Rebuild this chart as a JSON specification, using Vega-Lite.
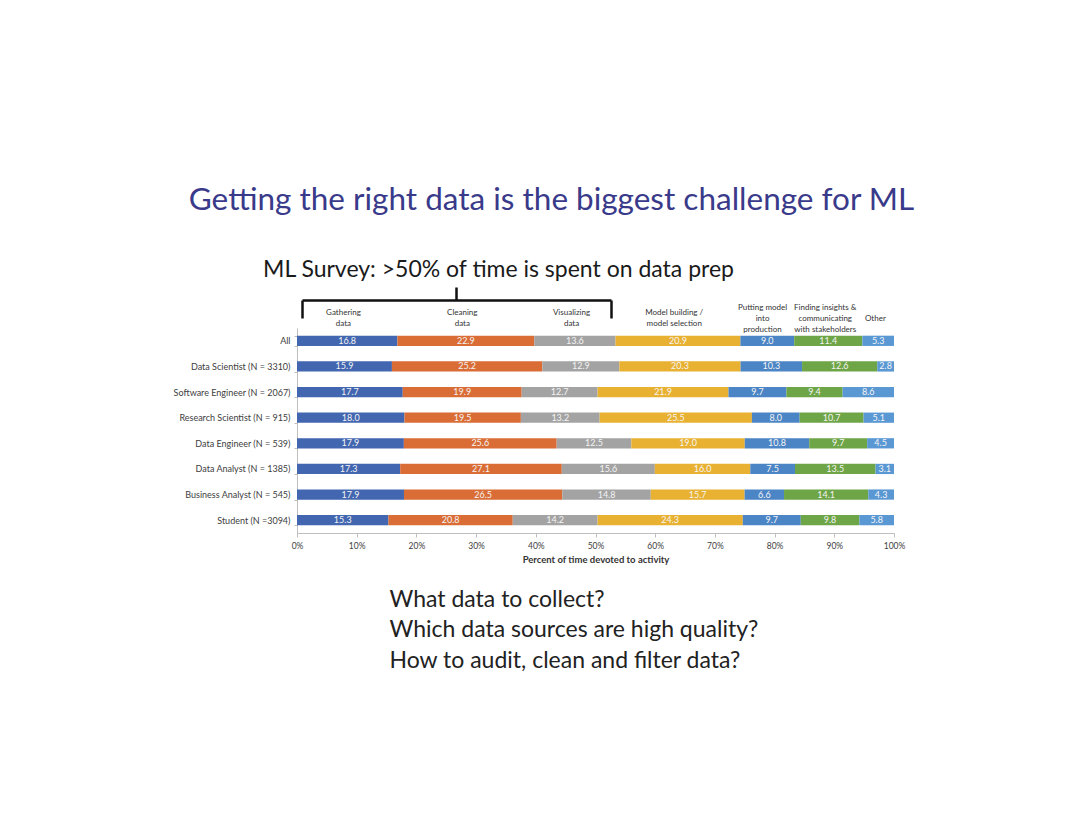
{
  "$schema": "https://vega.github.io/schema/vega-lite/v6.json",
  "width": 597,
  "height": 205,
  "autosize": {"type": "none"},
  "padding": {"left": 297, "top": 328, "right": 186, "bottom": 301},
  "background": "white",
  "config": {"view": {"stroke": null}, "font": "Lato"},
  "data": {"values": [
    {"role": "All", "activity": "Gathering data", "k": 1, "pct": 16.8},
    {"role": "All", "activity": "Cleaning data", "k": 2, "pct": 22.9},
    {"role": "All", "activity": "Visualizing data", "k": 3, "pct": 13.6},
    {"role": "All", "activity": "Model building / model selection", "k": 4, "pct": 20.9},
    {"role": "All", "activity": "Putting model into production", "k": 5, "pct": 9.0},
    {"role": "All", "activity": "Finding insights & communicating with stakeholders", "k": 6, "pct": 11.4},
    {"role": "All", "activity": "Other", "k": 7, "pct": 5.3},
    {"role": "Data Scientist (N = 3310)", "activity": "Gathering data", "k": 1, "pct": 15.9},
    {"role": "Data Scientist (N = 3310)", "activity": "Cleaning data", "k": 2, "pct": 25.2},
    {"role": "Data Scientist (N = 3310)", "activity": "Visualizing data", "k": 3, "pct": 12.9},
    {"role": "Data Scientist (N = 3310)", "activity": "Model building / model selection", "k": 4, "pct": 20.3},
    {"role": "Data Scientist (N = 3310)", "activity": "Putting model into production", "k": 5, "pct": 10.3},
    {"role": "Data Scientist (N = 3310)", "activity": "Finding insights & communicating with stakeholders", "k": 6, "pct": 12.6},
    {"role": "Data Scientist (N = 3310)", "activity": "Other", "k": 7, "pct": 2.8},
    {"role": "Software Engineer (N = 2067)", "activity": "Gathering data", "k": 1, "pct": 17.7},
    {"role": "Software Engineer (N = 2067)", "activity": "Cleaning data", "k": 2, "pct": 19.9},
    {"role": "Software Engineer (N = 2067)", "activity": "Visualizing data", "k": 3, "pct": 12.7},
    {"role": "Software Engineer (N = 2067)", "activity": "Model building / model selection", "k": 4, "pct": 21.9},
    {"role": "Software Engineer (N = 2067)", "activity": "Putting model into production", "k": 5, "pct": 9.7},
    {"role": "Software Engineer (N = 2067)", "activity": "Finding insights & communicating with stakeholders", "k": 6, "pct": 9.4},
    {"role": "Software Engineer (N = 2067)", "activity": "Other", "k": 7, "pct": 8.6},
    {"role": "Research Scientist (N = 915)", "activity": "Gathering data", "k": 1, "pct": 18.0},
    {"role": "Research Scientist (N = 915)", "activity": "Cleaning data", "k": 2, "pct": 19.5},
    {"role": "Research Scientist (N = 915)", "activity": "Visualizing data", "k": 3, "pct": 13.2},
    {"role": "Research Scientist (N = 915)", "activity": "Model building / model selection", "k": 4, "pct": 25.5},
    {"role": "Research Scientist (N = 915)", "activity": "Putting model into production", "k": 5, "pct": 8.0},
    {"role": "Research Scientist (N = 915)", "activity": "Finding insights & communicating with stakeholders", "k": 6, "pct": 10.7},
    {"role": "Research Scientist (N = 915)", "activity": "Other", "k": 7, "pct": 5.1},
    {"role": "Data Engineer (N = 539)", "activity": "Gathering data", "k": 1, "pct": 17.9},
    {"role": "Data Engineer (N = 539)", "activity": "Cleaning data", "k": 2, "pct": 25.6},
    {"role": "Data Engineer (N = 539)", "activity": "Visualizing data", "k": 3, "pct": 12.5},
    {"role": "Data Engineer (N = 539)", "activity": "Model building / model selection", "k": 4, "pct": 19.0},
    {"role": "Data Engineer (N = 539)", "activity": "Putting model into production", "k": 5, "pct": 10.8},
    {"role": "Data Engineer (N = 539)", "activity": "Finding insights & communicating with stakeholders", "k": 6, "pct": 9.7},
    {"role": "Data Engineer (N = 539)", "activity": "Other", "k": 7, "pct": 4.5},
    {"role": "Data Analyst (N = 1385)", "activity": "Gathering data", "k": 1, "pct": 17.3},
    {"role": "Data Analyst (N = 1385)", "activity": "Cleaning data", "k": 2, "pct": 27.1},
    {"role": "Data Analyst (N = 1385)", "activity": "Visualizing data", "k": 3, "pct": 15.6},
    {"role": "Data Analyst (N = 1385)", "activity": "Model building / model selection", "k": 4, "pct": 16.0},
    {"role": "Data Analyst (N = 1385)", "activity": "Putting model into production", "k": 5, "pct": 7.5},
    {"role": "Data Analyst (N = 1385)", "activity": "Finding insights & communicating with stakeholders", "k": 6, "pct": 13.5},
    {"role": "Data Analyst (N = 1385)", "activity": "Other", "k": 7, "pct": 3.1},
    {"role": "Business Analyst (N = 545)", "activity": "Gathering data", "k": 1, "pct": 17.9},
    {"role": "Business Analyst (N = 545)", "activity": "Cleaning data", "k": 2, "pct": 26.5},
    {"role": "Business Analyst (N = 545)", "activity": "Visualizing data", "k": 3, "pct": 14.8},
    {"role": "Business Analyst (N = 545)", "activity": "Model building / model selection", "k": 4, "pct": 15.7},
    {"role": "Business Analyst (N = 545)", "activity": "Putting model into production", "k": 5, "pct": 6.6},
    {"role": "Business Analyst (N = 545)", "activity": "Finding insights & communicating with stakeholders", "k": 6, "pct": 14.1},
    {"role": "Business Analyst (N = 545)", "activity": "Other", "k": 7, "pct": 4.3},
    {"role": "Student (N =3094)", "activity": "Gathering data", "k": 1, "pct": 15.3},
    {"role": "Student (N =3094)", "activity": "Cleaning data", "k": 2, "pct": 20.8},
    {"role": "Student (N =3094)", "activity": "Visualizing data", "k": 3, "pct": 14.2},
    {"role": "Student (N =3094)", "activity": "Model building / model selection", "k": 4, "pct": 24.3},
    {"role": "Student (N =3094)", "activity": "Putting model into production", "k": 5, "pct": 9.7},
    {"role": "Student (N =3094)", "activity": "Finding insights & communicating with stakeholders", "k": 6, "pct": 9.8},
    {"role": "Student (N =3094)", "activity": "Other", "k": 7, "pct": 5.8}
  ]},
  "encoding": {
    "y": {
      "field": "role", "type": "nominal",
      "sort": ["All", "Data Scientist (N = 3310)", "Software Engineer (N = 2067)", "Research Scientist (N = 915)", "Data Engineer (N = 539)", "Data Analyst (N = 1385)", "Business Analyst (N = 545)", "Student (N =3094)"],
      "scale": {"paddingInner": 0.6, "paddingOuter": 0.3},
      "axis": {"title": null, "labelFont": "Lato", "labelFontSize": 9, "labelColor": "#404040", "labelPadding": 4, "tickSize": 3, "tickBand": "extent", "domainColor": "#BFBFBF", "tickColor": "#BFBFBF", "labelLimit": 300}
    }
  },
  "layer": [
    {
      "mark": {"type": "bar"},
      "encoding": {
        "x": {"field": "pct", "type": "quantitative", "stack": "normalize",
          "scale": {"domain": [0, 1], "nice": false},
          "axis": {"orient": "bottom", "values": [0, 0.1, 0.2, 0.3, 0.4, 0.5, 0.6, 0.7, 0.8, 0.9, 1], "format": ".0%", "grid": false, "labelFlush": false, "labelFont": "Lato", "labelFontSize": 8.5, "labelColor": "#404040", "tickSize": 4, "tickColor": "#BFBFBF", "domainColor": "#BFBFBF", "labelPadding": 4, "title": "Percent of time devoted to activity", "titleFont": "Lato", "titleFontSize": 9.5, "titleFontWeight": "bold", "titleColor": "#333333", "titlePadding": 5}
        },
        "color": {"field": "activity", "type": "nominal", "legend": null,
          "scale": {"domain": ["Gathering data", "Cleaning data", "Visualizing data", "Model building / model selection", "Putting model into production", "Finding insights & communicating with stakeholders", "Other"],
                    "range": ["#4266B0", "#DA6D36", "#A3A3A3", "#E9B131", "#4C85C5", "#6EA547", "#5A98D4"]}},
        "order": {"field": "k", "type": "quantitative"}
      }
    },
    {
      "mark": {"type": "text", "fontSize": 9, "font": "Lato", "color": "#F4F4F4", "baseline": "middle"},
      "encoding": {
        "x": {"field": "pct", "type": "quantitative", "stack": "normalize", "bandPosition": 0.5,
          "axis": {"orient": "top", "values": [0.077, 0.276, 0.459, 0.631, 0.779, 0.884, 0.968],
            "labelExpr": "datum.value < 0.1 ? ['Gathering','data'] : datum.value < 0.35 ? ['Cleaning','data'] : datum.value < 0.5 ? ['Visualizing','data'] : datum.value < 0.7 ? ['Model building /','model selection'] : datum.value < 0.83 ? ['Putting model','into','production'] : datum.value < 0.93 ? ['Finding insights &','communicating','with stakeholders'] : 'Other'",
            "domain": false, "ticks": false, "tickSize": 0, "grid": false, "labelFlush": false, "labelOverlap": false, "labelBound": false,
            "labelFont": "Lato", "labelFontSize": 8, "labelColor": "#333333", "labelLineHeight": 11, "labelBaseline": "middle",
            "labelPadding": {"condition": [{"test": "datum.value > 0.95", "value": 10}, {"test": "datum.value < 0.7", "value": 16}], "value": 21},
            "title": "ML Survey: >50% of time is spent on data prep", "titleX": 201, "titleY": -52, "titleAlign": "center", "titleBaseline": "alphabetic", "titleFont": "Lato", "titleFontSize": 23, "titleFontWeight": "normal", "titleColor": "#1A1A1A"}
        },
        "detail": {"field": "activity"},
        "order": {"field": "k", "type": "quantitative"},
        "text": {"field": "pct", "type": "quantitative", "format": ".1f"}
      }
    },
    {
      "mark": {"type": "bar", "opacity": 0},
      "encoding": {
        "x": {"field": "pct", "type": "quantitative", "stack": "normalize",
          "axis": {"orient": "top", "offset": 28, "values": [0.266], "labels": false, "grid": false,
            "ticks": true, "tickSize": 13, "tickWidth": 2.5, "tickColor": "#111111",
            "domain": true, "domainWidth": 2.5, "domainColor": "#111111", "domainDash": [0, 5, 309, 1000],
            "title": ["What data to collect?", "Which data sources are high quality?", "How to audit, clean and filter data?"],
            "titleX": 92, "titleY": 306, "titleAlign": "left", "titleBaseline": "alphabetic", "titleFont": "Lato", "titleFontSize": 23, "titleFontWeight": "normal", "titleColor": "#222222", "titleLineHeight": 30.5}
        },
        "detail": {"field": "activity"},
        "order": {"field": "k", "type": "quantitative"}
      }
    },
    {
      "mark": {"type": "bar", "opacity": 0},
      "encoding": {
        "x": {"field": "pct", "type": "quantitative", "stack": "normalize",
          "axis": {"orient": "top", "offset": 10, "values": [0.008, 0.526], "labels": false, "grid": false,
            "ticks": true, "tickSize": 18, "tickWidth": 2.5, "tickColor": "#111111", "domain": false,
            "title": "Getting the right data is the biggest challenge for ML",
            "titleX": 254, "titleY": -109, "titleAlign": "center", "titleBaseline": "alphabetic", "titleFont": "Lato", "titleFontSize": 31.5, "titleFontWeight": "normal", "titleColor": "#3A3A8A"}
        },
        "detail": {"field": "activity"},
        "order": {"field": "k", "type": "quantitative"}
      }
    }
  ],
  "resolve": {"axis": {"x": "independent"}}
}
